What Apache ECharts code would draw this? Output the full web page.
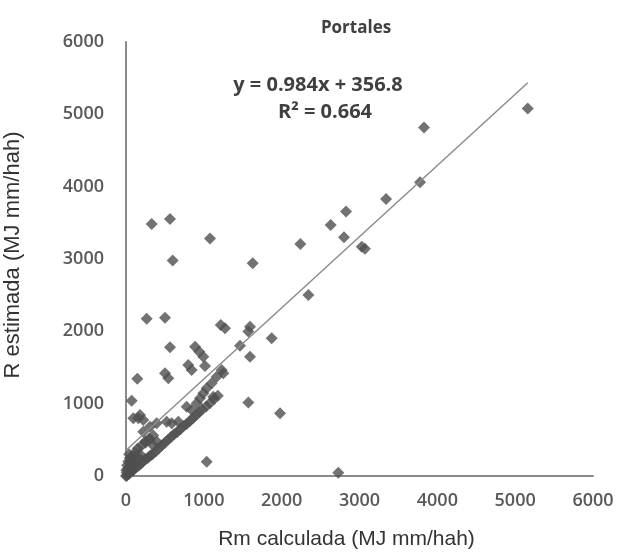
<!DOCTYPE html>
<html>
<head>
<meta charset="utf-8">
<script src="https://cdn.jsdelivr.net/npm/echarts@6/dist/echarts.min.js"></script>
<style>
html,body{margin:0;padding:0;background:#fff;}
#chart{width:622px;height:559px;}
</style>
</head>
<body>
<div id="chart"></div>
<script>
// Rm calculada (x) and R estimada (y)
const xValues = [
  5162,3829,3778,3341,2827,2630,2801,3029,3070,2240,2343,
  330,565,1079,600,1628,
  266,501,1217,1272,1593,1572,1872,1465,565,
  887,942,993,1593,800,843,1015,145,501,544,1229,1251,1165,
  1101,1037,994,951,908,1122,1572,1979,780,844,
  73,94,180,222,158,1037,2728,
  222,308,394,523,587,672,
  20,40,60,80,100,130,160,190,220,250,280,310,340,380,420,460,500,540,580,620,660,700,740,780,820,860,900,940,980,1030,1080,1130,1180,
  10,20,15,30,50,40,60,80,100,120,150,180,200,250,300,350,10,0,5,60,100,130,160,
  250,300,350,400
];
const yValues = [
  5080,4817,4062,3831,3655,3471,3301,3171,3140,3206,2503,
  3485,3554,3282,2978,2941,
  2175,2189,2088,2042,2065,1996,1904,1802,1780,
  1788,1719,1650,1650,1535,1466,1520,1345,1420,1351,1466,1420,1373,
  1282,1213,1144,1075,1005,1097,1017,867,958,913,
  1040,798,844,775,800,198,46,
  613,682,729,751,729,751,
  20,30,60,70,90,120,140,170,200,230,250,280,300,340,380,420,460,500,540,580,610,650,690,720,760,800,840,880,920,960,1010,1060,1110,
  50,100,150,200,250,300,180,230,280,330,380,300,420,480,520,560,5,0,80,120,180,220,260,
  460,500,420,470
];
const xTicks = [0,1000,2000,3000,4000,5000,6000];
const yTicks = [0,1000,2000,3000,4000,5000,6000];
const slope = 0.984;
const intercept = 356.8;
const titleText = 'Portales';
const eqText = 'y = 0.984x + 356.8';
const r2Text = 'R² = 0.664';
const xName = 'Rm calculada (MJ mm/hah)';
const yName = 'R estimada (MJ mm/hah)';

const points = xValues.map((x, i) => [x, yValues[i]]);
const xMin = Math.min(...xValues), xMax = Math.max(...xValues);
const trend = [[xMin, slope * xMin + intercept], [xMax, slope * xMax + intercept]];

const chart = echarts.init(document.getElementById('chart'), null, {renderer: 'canvas'});
const tickFont = {color: '#595959', fontSize: 18, fontWeight: 600, fontFamily: 'Open Sans'};
chart.setOption({
  animation: false,
  backgroundColor: '#fff',
  title: {
    text: titleText, left: 351, top: 15, textAlign: 'center',
    textStyle: {fontFamily: 'Open Sans', fontWeight: 'bold', fontSize: 17, color: '#404040'}
  },
  grid: {left: 126, right: 29, top: 42, bottom: 83, containLabel: false, outerBoundsMode: 'none'},
  xAxis: {
    type: 'value', min: 0, max: 6000, interval: 1000,
    name: xName, nameLocation: 'middle', nameGap: 53,
    nameTextStyle: {fontFamily: 'Liberation Sans', fontSize: 21, color: '#333', padding: [0, 26, 0, 0]},
    axisLine: {show: true, lineStyle: {color: '#8a8a8a', width: 2}},
    axisTick: {show: false},
    splitLine: {show: false},
    axisLabel: Object.assign({margin: 16, formatter: v => xTicks.includes(v) ? String(v) : ''}, tickFont)
  },
  yAxis: {
    type: 'value', min: 0, max: 6000, interval: 1000,
    name: yName, nameLocation: 'middle', nameGap: 102, nameRotate: 90,
    nameTextStyle: {fontFamily: 'Liberation Sans', fontSize: 22, color: '#333', padding: [0, 0, 0, 8]},
    axisLine: {show: true, lineStyle: {color: '#8a8a8a', width: 2}},
    axisTick: {show: false},
    splitLine: {show: false},
    axisLabel: Object.assign({margin: 22, formatter: v => yTicks.includes(v) ? String(v) : ''}, tickFont)
  },
  graphic: [
    {type: 'text', x: 318, y: 75, style: {text: eqText, textAlign: 'center', font: 'bold 20px "Open Sans"', fill: '#404040'}},
    {type: 'text', x: 325, y: 102, style: {text: r2Text, textAlign: 'center', font: 'bold 20px "Open Sans"', fill: '#404040'}}
  ],
  series: [
    {
      type: 'scatter', data: points, symbol: 'diamond', symbolSize: 12,
      itemStyle: {color: '#4f4f4f'}, z: 2
    },
    {
      type: 'line', data: trend, showSymbol: false, symbol: 'none',
      lineStyle: {color: '#8c8c8c', width: 1.5}, z: 3
    }
  ]
});
</script>
</body>
</html>
